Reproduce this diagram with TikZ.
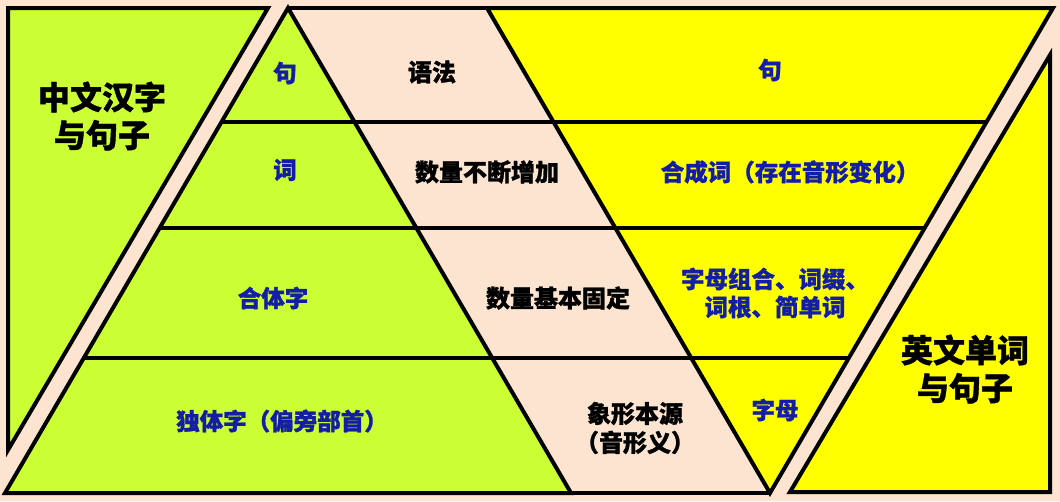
\documentclass[tikz,border=0pt]{standalone}
\usepackage{fontspec}
\newfontfamily\cjk{Noto Sans CJK SC}[BoldFeatures={FakeBold=1.2}]
\usepackage{tikz}

\definecolor{peach}{RGB}{252,228,208}
\definecolor{hanzigreen}{RGB}{204,255,51}
\definecolor{wordyellow}{RGB}{255,255,0}
\definecolor{labelblue}{RGB}{20,30,165}

\tikzset{
  block/.style={draw=black,line width=4pt,line join=miter},
  level/.style={font=\cjk\bfseries\fontsize{23.5}{28}\selectfont,text=labelblue,align=center},
  note/.style={font=\cjk\bfseries\fontsize{24}{29}\selectfont,text=black,align=center},
  title/.style={font=\cjk\bfseries\fontsize{32}{38}\selectfont,text=black,align=center}
}

\begin{document}
\begin{tikzpicture}[x=1pt,y=-1pt]
% Background
\fill[peach] (0,0) rectangle (1060,501);
\useasboundingbox (0,0) rectangle (1060,501);

% Left triangle
\filldraw[block,fill=hanzigreen] (8,8) -- (268,8) -- (8,450) -- cycle;
\node[title] (zhtitle) at (102,116) {中文汉字\\与句子};

% Right triangle
\filldraw[block,fill=wordyellow] (1050,55) -- (1050,492) -- (790,492) -- cycle;
\node[title] (entitle) at (965,369) {英文单词\\与句子};

% Pyramid and inverted pyramid
\filldraw[block,fill=hanzigreen] (288,8) -- (571,493) -- (5,493) -- cycle;
\filldraw[block,fill=wordyellow] (487,8) -- (1053,8) -- (770,493) -- cycle;
\draw[block] (288,8) -- (487,8);
\draw[block] (5,493) -- (770,493);

% Levels
\foreach \y in {122,228,358} {
    \draw[block] ({288-(\y-8)*0.5835},\y) -- ({1053-(\y-8)*0.5835},\y);
}

% Chinese side
\node[level] (zhju) at (285,73) {句};
\node[level] (zhci) at (285,170) {词};
\node[level] (hetizi) at (273,298) {合体字};
\node[level] (dutizi) at (282,421) {独体字（偏旁部首）};

% Middle
\node[note] (yufa) at (432,72) {语法};
\node[note] (zengjia) at (487,172) {数量不断增加};
\node[note] (guding) at (558,298) {数量基本固定};
\node[note] (benyuan) at (635,428) {象形本源\\（音形义）};

% English side
\node[level] (enju) at (770,70) {句};
\node[level] (hechengci) at (790,172) {合成词（存在音形变化）};
\node[level] (zumu) at (775,293) {字母组合、词缀、\\词根、简单词};
\node[level] (zimu) at (775,410) {字母};
\end{tikzpicture}
\end{document}
